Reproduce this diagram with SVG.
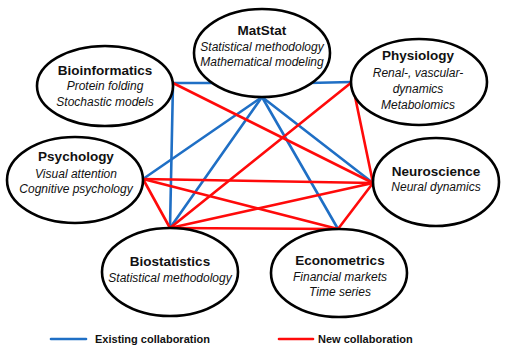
<svg xmlns="http://www.w3.org/2000/svg" width="505" height="355" viewBox="0 0 505 355">
<style>
.b{stroke:#1f6fc5;stroke-width:2.6;fill:none;stroke-linecap:round}
.r{stroke:#ff0a0a;stroke-width:2.6;fill:none;stroke-linecap:round}
.n ellipse{fill:#fff;stroke:#000;stroke-width:2.6}
text{font-family:"Liberation Sans",Arial,sans-serif;text-anchor:middle;fill:#111}
.t{font-weight:bold;font-size:13.5px}
.s{font-style:italic;font-size:12px}
.l{font-weight:bold;font-size:11px;text-anchor:start}
</style>
<rect width="505" height="355" fill="#fff"/>
<g id="connectors">
<line class="b" x1="173" y1="83" x2="216" y2="83"/>
<line class="b" x1="308" y1="83" x2="352" y2="82"/>
<line class="b" x1="173" y1="83" x2="170" y2="228"/>
<line class="b" x1="262" y1="97" x2="143" y2="179"/>
<line class="b" x1="262" y1="97" x2="170" y2="228"/>
<line class="b" x1="262" y1="97" x2="338" y2="229"/>
<line class="b" x1="262" y1="97" x2="373" y2="183"/>
<line class="r" x1="173" y1="83" x2="373" y2="183"/>
<line class="r" x1="352" y1="82" x2="170" y2="228"/>
<line class="r" x1="352" y1="82" x2="373" y2="183"/>
<line class="r" x1="143" y1="179" x2="373" y2="183"/>
<line class="r" x1="143" y1="179" x2="338" y2="229"/>
<line class="r" x1="143" y1="179" x2="170" y2="228"/>
<line class="r" x1="170" y1="228" x2="373" y2="183"/>
<line class="r" x1="170" y1="228" x2="338" y2="229"/>
<line class="r" x1="338" y1="229" x2="373" y2="183"/>
</g>
<g id="matstat" class="n">
<ellipse cx="262" cy="53" rx="68" ry="44"/>
<text class="t" x="262" y="35">MatStat</text>
<text class="s" x="262" y="51">Statistical methodology</text>
<text class="s" x="262" y="66">Mathematical modeling</text>
</g>
<g id="bioinformatics" class="n">
<ellipse cx="105" cy="86" rx="68" ry="40"/>
<text class="t" x="105" y="75">Bioinformatics</text>
<text class="s" x="105" y="90">Protein folding</text>
<text class="s" x="105" y="106">Stochastic models</text>
</g>
<g id="physiology" class="n">
<ellipse cx="419" cy="82" rx="68" ry="43"/>
<text class="t" x="418" y="60">Physiology</text>
<text class="s" x="418" y="77">Renal-, vascular-</text>
<text class="s" x="418" y="93">dynamics</text>
<text class="s" x="418" y="109">Metabolomics</text>
</g>
<g id="psychology" class="n">
<ellipse cx="75" cy="180" rx="68" ry="43"/>
<text class="t" x="76" y="161">Psychology</text>
<text class="s" x="76" y="178">Visual attention</text>
<text class="s" x="76" y="193">Cognitive psychology</text>
</g>
<g id="neuroscience" class="n">
<ellipse cx="436" cy="182" rx="63" ry="44"/>
<text class="t" x="436" y="176">Neuroscience</text>
<text class="s" x="436" y="191">Neural dynamics</text>
</g>
<g id="biostatistics" class="n">
<ellipse cx="170" cy="272" rx="68" ry="44"/>
<text class="t" x="170" y="266">Biostatistics</text>
<text class="s" x="170" y="282">Statistical methodology</text>
</g>
<g id="econometrics" class="n">
<ellipse cx="339" cy="273" rx="68" ry="44"/>
<text class="t" x="340" y="265">Econometrics</text>
<text class="s" x="340" y="281">Financial markets</text>
<text class="s" x="340" y="296">Time series</text>
</g>
<g id="legend">
<line class="b" x1="51" y1="339" x2="86" y2="339"/>
<text class="l" x="95" y="343">Existing collaboration</text>
<line class="r" x1="279" y1="339" x2="313" y2="339"/>
<text class="l" x="318" y="343">New collaboration</text>
</g>
</svg>
